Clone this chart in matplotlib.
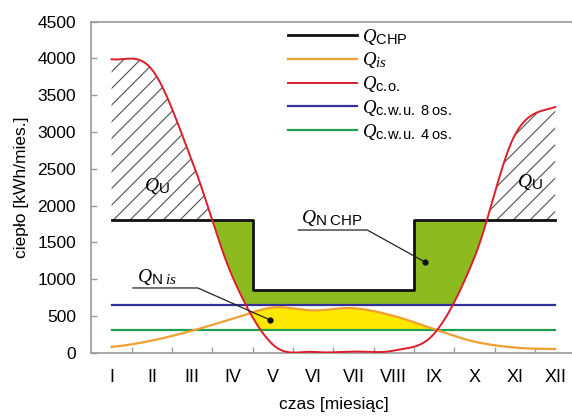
import numpy as np
import matplotlib
matplotlib.use('Agg')
import matplotlib.pyplot as plt

try:
    import matplotlib._mathtext as _mt
    _mt.SHRINK_FACTOR = 0.78
except Exception:
    pass

# ---------------- data (monthly values, kWh/month) ----------------
months = ['I', 'II', 'III', 'IV', 'V', 'VI', 'VII', 'VIII', 'IX', 'X', 'XI', 'XII']
q_chp = [1800, 1800, 1800, 1800, 850, 850, 850, 850, 1800, 1800, 1800, 1800]
q_is = [80, 165, 300, 460, 615, 575, 605, 500, 320, 150, 70, 50]
q_co = [3990, 3850, 2600, 1030, 110, 10, 15, 30, 260, 1300, 2960, 3340]
q_cwu8 = [645, 645, 645, 645, 645, 645, 645, 645, 645, 645, 645, 645]
q_cwu4 = [310, 310, 310, 310, 310, 310, 310, 310, 310, 310, 310, 310]

labels = [r'$Q_{\mathrm{CHP}}$', r'$Q_{is}$', r'$Q_{\mathrm{c.\!o.}}$',
          r'$Q_{\mathrm{c.\!w.\!u.\ 8\ os.}}$', r'$Q_{\mathrm{c.\!w.\!u.\ 4\ os.}}$']

plt.rcParams['font.family'] = ['Liberation Sans', 'DejaVu Sans']
plt.rcParams['mathtext.fontset'] = 'custom'
plt.rcParams['mathtext.rm'] = 'Liberation Sans'
plt.rcParams['mathtext.it'] = 'Liberation Serif:italic'
plt.rcParams['mathtext.bf'] = 'Liberation Sans:bold'
plt.rcParams['hatch.linewidth'] = 0.8

C_CHP = '#111111'
C_IS = '#F0A030'
C_CO = '#DC1E2A'
C_W8 = '#33309A'
C_W4 = '#1FA050'
C_FILL_G = '#8DBB1F'
C_FILL_Y = '#FFE800'
C_SPINE = '#9A9A9A'


def smooth(y, xs):
    """Cubic (Catmull-Rom type) smoothing through monthly points."""
    y = np.asarray(y, float)
    n = len(y)
    m = np.empty(n)
    m[1:-1] = (y[2:] - y[:-2]) / 2.0
    m[0] = (y[1] - y[0]) / 2.0
    m[-1] = (y[-1] - y[-2]) / 2.0
    i = np.clip(np.floor(xs - 1).astype(int), 0, n - 2)
    t = xs - 1 - i
    h00 = 2 * t**3 - 3 * t**2 + 1
    h10 = t**3 - 2 * t**2 + t
    h01 = -2 * t**3 + 3 * t**2
    h11 = t**3 - t**2
    return h00 * y[i] + h10 * m[i] + h01 * y[i + 1] + h11 * m[i + 1]


x = np.arange(1, len(months) + 1)
xd = np.linspace(1, 12, 4401)
co_d = smooth(q_co, xd)
is_d = smooth(q_is, xd)
idx = np.clip(np.floor(xd + 0.5).astype(int) - 1, 0, 11)
chp_d = np.asarray(q_chp, float)[idx]
w8_d = np.asarray(q_cwu8, float)[idx]
w4_d = np.asarray(q_cwu4, float)[idx]

fig = plt.figure(figsize=(5.72, 4.19), dpi=100)
ax = fig.add_axes([91.4 / 572, 66.3 / 419, 484 / 572, 331 / 419])

# ---------------- areas ----------------
low_g = np.maximum(co_d, w8_d)
ax.fill_between(xd, low_g, chp_d, where=chp_d > low_g, interpolate=True,
                facecolor=C_FILL_G, edgecolor='none', zorder=1)
low_y = np.maximum(co_d, w4_d)
ax.fill_between(xd, low_y, is_d, where=is_d > low_y, interpolate=True,
                facecolor=C_FILL_Y, edgecolor='none', zorder=1)
ax.fill_between(xd, chp_d, co_d, where=co_d > chp_d, interpolate=True,
                facecolor='none', edgecolor='#505050', hatch='//', linewidth=0,
                zorder=1)

# ---------------- lines ----------------
l_w8, = ax.plot(x, q_cwu8, color=C_W8, lw=1.6, zorder=3)
l_w4, = ax.plot(x, q_cwu4, color=C_W4, lw=1.6, zorder=3)
l_is, = ax.plot(xd, is_d, color=C_IS, lw=1.6, zorder=3)
l_chp, = ax.plot(x, q_chp, color=C_CHP, lw=2.0, drawstyle='steps-mid', zorder=4)
l_co, = ax.plot(xd, co_d, color=C_CO, lw=1.4, zorder=5)

# ---------------- annotations ----------------
ax.text(2.13, 2266, r'$Q_{\mathrm{U}}$', fontsize=14, ha='center', va='center', zorder=6)
ax.text(11.38, 2320, r'$Q_{\mathrm{U}}$', fontsize=14, ha='center', va='center', zorder=6)

ax.text(5.70, 1700, r'$Q_{\mathrm{N\ CHP}}$', fontsize=14, ha='left', va='bottom', zorder=6)
ax.plot([5.63, 7.34, 8.77], [1668, 1668, 1233], color='#222222', lw=0.9, zorder=6)
ax.plot([8.77], [1233], 'o', color='#111111', ms=3.5, zorder=6)

ax.text(1.64, 895, r'$Q_{\mathrm{N}\ is}$', fontsize=14, ha='left', va='bottom', zorder=6)
ax.plot([1.53, 3.14, 4.93], [880, 880, 445], color='#222222', lw=0.9, zorder=6)
ax.plot([4.93], [445], 'o', color='#111111', ms=3.5, zorder=6)

# ---------------- axes ----------------
ax.set_xlim(0.5, 12.5)
ax.set_ylim(0, 4500)
ax.set_xticks(x)
ax.set_xticklabels(months, fontsize=13)
ax.set_xticks(np.arange(1.5, 12, 1), minor=True)
ax.tick_params(axis='x', which='major', length=0, pad=12)
ax.tick_params(axis='x', which='minor', direction='in', length=4, width=1, color=C_SPINE)
ax.set_yticks(np.arange(0, 4501, 500))
ax.tick_params(axis='y', direction='in', length=4, width=1, color=C_SPINE,
               labelsize=12.5, pad=11)
for s in ['left', 'bottom', 'top']:
    ax.spines[s].set_color(C_SPINE)
    ax.spines[s].set_linewidth(1.2)
ax.spines['right'].set_visible(False)

ax.set_xlabel('czas [miesiąc]', fontsize=12.5, labelpad=8)
ax.set_ylabel('ciepło [kWh/mies.]', fontsize=12.5, labelpad=6)

ax.legend([l_chp, l_is, l_co, l_w8, l_w4], labels, loc='upper left',
          bbox_to_anchor=(0.406, 0.985), frameon=False, fontsize=13.5,
          handlelength=3.7, handletextpad=0.25, labelspacing=0.2,
          borderpad=0, borderaxespad=0)

fig.savefig('out.png', dpi=100)
